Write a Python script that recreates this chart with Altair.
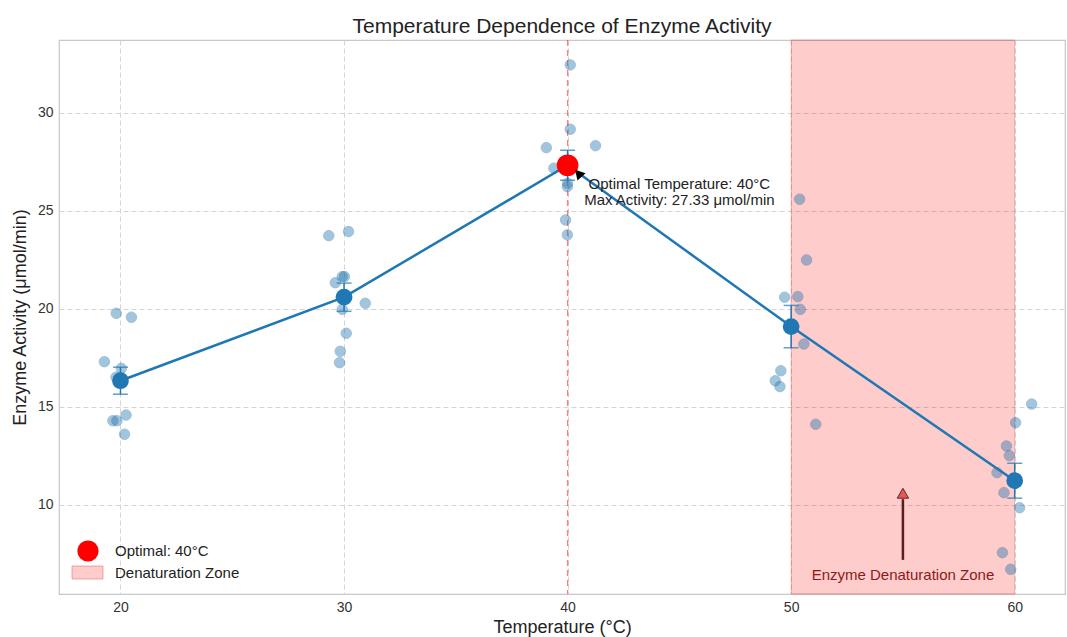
import altair as alt
import pandas as pd

# ---- data ----
temps = [20, 30, 40, 50, 60]
means = [16.34, 20.60, 27.33, 19.10, 11.24]
sems = [0.69, 0.72, 0.77, 1.08, 0.89]

pt_temp = [19.81, 20.49, 19.28, 20.04, 19.80, 20.25, 19.66, 19.84, 20.18, 20.05,
           29.32, 30.20, 29.92, 30.02, 29.61, 29.92, 30.95, 30.10, 29.83, 29.80,
           40.12, 40.12, 39.05, 41.25, 39.39, 40.00, 39.99, 39.91, 39.99, 40.05,
           50.38, 50.69, 49.71, 50.30, 50.41, 50.57, 49.54, 49.29, 49.50, 51.10,
           60.76, 60.04, 59.63, 59.76, 59.21, 59.52, 60.22, 59.45, 59.82, 60.05]
pt_act = [19.78, 19.58, 17.31, 16.97, 16.52, 14.59, 14.30, 14.30, 13.61, 16.30,
          23.74, 23.95, 21.65, 21.65, 21.34, 19.98, 20.29, 18.76, 17.84, 17.26,
          32.45, 29.17, 28.23, 28.33, 27.18, 26.41, 26.24, 24.54, 23.78, 27.30,
          25.60, 22.50, 20.60, 20.63, 19.98, 18.21, 16.85, 16.34, 16.04, 14.12,
          15.15, 14.20, 13.01, 12.52, 11.65, 10.63, 9.86, 7.57, 6.72, 11.20]

opt_temp = 40
opt_act = 27.33
zone_start, zone_end = 50, 60

x_domain = [17.25, 62.25]
y_domain = [5.46, 33.72]

FONT = "Liberation Sans"
BLUE = "#1f77b4"

pts = pd.DataFrame({"Temperature": pt_temp, "Activity": pt_act})
summ = pd.DataFrame({"Temperature": temps, "Activity": means, "sem": sems})
summ["lo"] = summ["Activity"] - summ["sem"]
summ["hi"] = summ["Activity"] + summ["sem"]

xs = alt.Scale(domain=x_domain, nice=False, zero=False)
ys = alt.Scale(domain=y_domain, nice=False, zero=False)
X = alt.X("Temperature:Q", scale=xs,
          axis=alt.Axis(values=[20, 30, 40, 50, 60], title="Temperature (°C)"))
Y = alt.Y("Activity:Q", scale=ys,
          axis=alt.Axis(values=[10, 15, 20, 25, 30], title="Enzyme Activity (μmol/min)"))

zone_df = pd.DataFrame({"x": [zone_start], "x2": [zone_end], "y": [y_domain[0]], "y2": [y_domain[1]]})
zone = alt.Chart(zone_df).mark_rect(fill="#ff0000", fillOpacity=0.2, stroke="#d04040",
                                    strokeOpacity=0.35, strokeWidth=1).encode(
    x=alt.X("x:Q", scale=xs), x2="x2:Q", y=alt.Y("y:Q", scale=ys), y2="y2:Q")

vline = alt.Chart(pd.DataFrame({"x": [opt_temp]})).mark_rule(
    color="#ff0000", opacity=0.5, strokeDash=[6, 4], strokeWidth=1.3).encode(
    x=alt.X("x:Q", scale=xs))

scatter = alt.Chart(pts).mark_circle(size=110, color=BLUE, opacity=0.42,
                                     stroke="#1f5f8f", strokeWidth=1, strokeOpacity=0.9).encode(x=X, y=Y)

ebar = alt.Chart(summ).mark_rule(color=BLUE, strokeWidth=1.5).encode(
    x=alt.X("Temperature:Q", scale=xs), y=alt.Y("lo:Q", scale=ys), y2="hi:Q")
cap_lo = alt.Chart(summ).mark_tick(orient="horizontal", color=BLUE, size=15, thickness=1.5).encode(
    x=alt.X("Temperature:Q", scale=xs), y=alt.Y("lo:Q", scale=ys))
cap_hi = alt.Chart(summ).mark_tick(orient="horizontal", color=BLUE, size=15, thickness=1.5).encode(
    x=alt.X("Temperature:Q", scale=xs), y=alt.Y("hi:Q", scale=ys))

line = alt.Chart(summ).mark_line(color=BLUE, strokeWidth=2.5).encode(x=X, y=Y)
mean_pts = alt.Chart(summ).mark_circle(size=280, color=BLUE, opacity=1).encode(x=X, y=Y)

opt = alt.Chart(pd.DataFrame({"Temperature": [opt_temp], "Activity": [opt_act]})).mark_circle(
    size=470, color="#ff0000", opacity=1).encode(x=X, y=Y)

# annotation of optimum
ann_df = pd.DataFrame({"x": [45.0], "y": [26.36],
                       "t": [["Optimal Temperature: 40°C", f"Max Activity: {opt_act:.2f} μmol/min"]]})
ann = alt.Chart(ann_df).mark_text(font=FONT, fontSize=15, color="#222222", align="center",
                                  baseline="middle", lineHeight=16).encode(
    x=alt.X("x:Q", scale=xs), y=alt.Y("y:Q", scale=ys), text="t")
head = alt.Chart(pd.DataFrame({"x": [40.48], "y": [26.92]})).mark_point(
    shape="triangle-up", filled=True, size=120, color="black", opacity=1, angle=318).encode(
    x=alt.X("x:Q", scale=xs), y=alt.Y("y:Q", scale=ys))

# denaturation annotation
arr_df = pd.DataFrame({"x": [55.0], "y": [7.2], "y2": [10.3]})
shaft = alt.Chart(arr_df).mark_rule(color="#5a1e1e", strokeWidth=2.5).encode(
    x=alt.X("x:Q", scale=xs), y=alt.Y("y:Q", scale=ys), y2="y2:Q")
head2 = alt.Chart(pd.DataFrame({"x": [55.0], "y": [10.6]})).mark_point(
    shape="triangle-up", filled=True, size=130, fill="#e05a5a", stroke="#6b1f1f",
    strokeWidth=1, opacity=1).encode(x=alt.X("x:Q", scale=xs), y=alt.Y("y:Q", scale=ys))
zone_txt = alt.Chart(pd.DataFrame({"x": [55.0], "y": [6.45], "t": ["Enzyme Denaturation Zone"]})).mark_text(
    font=FONT, fontSize=15, color="#8b1a1a", align="center", baseline="middle").encode(
    x=alt.X("x:Q", scale=xs), y=alt.Y("y:Q", scale=ys), text="t")

# legend (drawn in pixel space)
leg_c = alt.Chart(pd.DataFrame({"a": [1]})).mark_circle(size=450, color="#ff0000", opacity=1).encode(
    x=alt.value(29), y=alt.value(511))
leg_r = alt.Chart(pd.DataFrame({"a": [1]})).mark_rect(fill="#ff0000", fillOpacity=0.2,
                                                      stroke="#e06060", strokeOpacity=0.5).encode(
    x=alt.value(13), x2=alt.value(44), y=alt.value(526), y2=alt.value(539))
leg_t = alt.Chart(pd.DataFrame({"t": ["Optimal: 40°C", "Denaturation Zone"], "yy": [511, 533]})).mark_text(
    font=FONT, fontSize=15, color="#222222", align="left", baseline="middle").encode(
    x=alt.value(56), y=alt.Y("yy:Q", scale=None), text="t")

chart = alt.layer(zone, vline, scatter, ebar, cap_lo, cap_hi, line, mean_pts, opt,
                  ann, head, shaft, head2, zone_txt, leg_c, leg_r, leg_t).properties(
    width=1006, height=554,
    title=alt.TitleParams("Temperature Dependence of Enzyme Activity", font=FONT, fontSize=21,
                          fontWeight="normal", color="#222222", offset=2),
    autosize=alt.AutoSizeParams(type="none"),
    padding={"left": 59, "top": 40, "right": 2, "bottom": 43},
).configure_view(stroke="#c8c8c8", strokeWidth=1.2).configure_axis(
    domain=False, ticks=False, grid=True, gridColor="#d4d4d4", gridDash=[5, 3], gridWidth=1,
    labelFont=FONT, labelFontSize=14, labelColor="#333333", titleFont=FONT, titleFontSize=18,
    titleFontWeight="normal", titleColor="#222222", labelPadding=6
).configure_axisX(titlePadding=4).configure_axisY(titlePadding=8)

chart.save("out.html", embed_options={"renderer": "svg", "actions": False})
